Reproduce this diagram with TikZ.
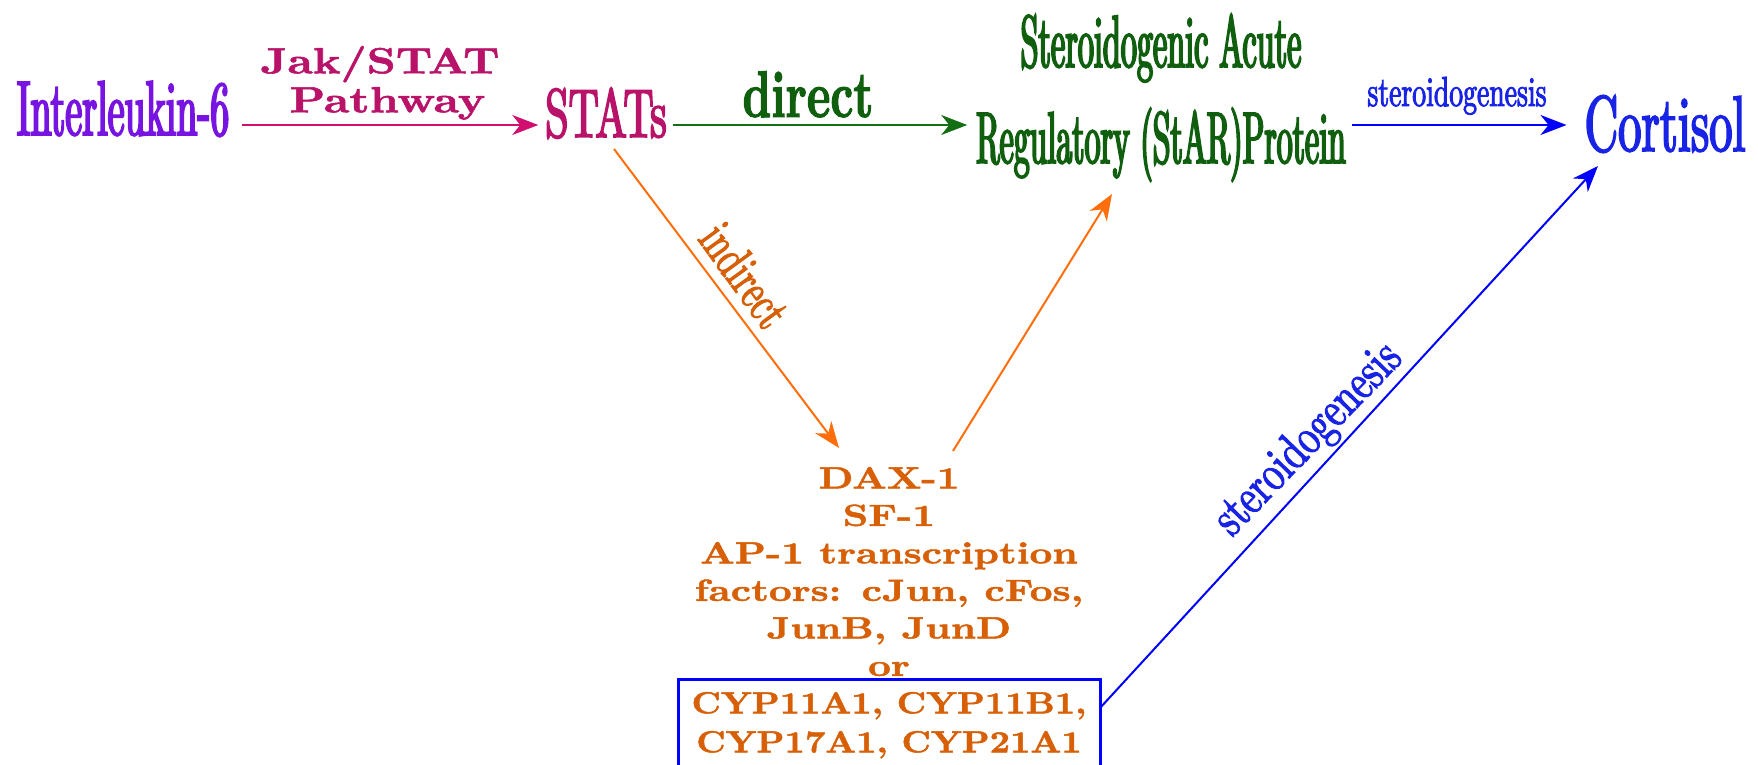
\documentclass[tikz,border=0pt]{standalone}
\usepackage{fontspec}
\usetikzlibrary{arrows.meta}
\newfontfamily\fIL{lmroman10-regular}[Extension=.otf,FakeStretch=0.49,FakeBold=2.5]
\newfontfamily\fStats{lmroman10-regular}[Extension=.otf,FakeStretch=0.61,FakeBold=2.5]
\newfontfamily\fCort{lmroman10-regular}[Extension=.otf,FakeStretch=0.59,FakeBold=2.2]
\newfontfamily\fStar{lmroman10-regular}[Extension=.otf,FakeStretch=0.435,FakeBold=2.5]
\newfontfamily\fLabT{lmroman10-regular}[Extension=.otf,FakeStretch=0.66,FakeBold=2.2]
\newfontfamily\fLabI{lmroman10-regular}[Extension=.otf,FakeStretch=0.66,FakeBold=2.2]
\newfontfamily\fLabS{lmroman10-regular}[Extension=.otf,FakeStretch=0.75,FakeBold=2.2]
\newfontfamily\fDir{lmroman10-bold}[Extension=.otf,FakeStretch=0.68,FakeBold=1.5]
\newfontfamily\fWide{lmroman10-bold}[Extension=.otf,FakeStretch=1.3,FakeBold=1.5]
\newfontfamily\fJak{lmroman10-bold}[Extension=.otf,FakeStretch=1.25,FakeBold=1.5]
\newfontfamily\fWideB{lmroman10-bold}[Extension=.otf,FakeStretch=1.16,FakeBold=1.5]
\definecolor{ilcol}{RGB}{120,20,225}
\definecolor{pinkcol}{RGB}{185,18,105}
\definecolor{pinkarr}{RGB}{210,15,110}
\definecolor{greencol}{RGB}{15,95,15}
\definecolor{greenarr}{RGB}{20,110,20}
\definecolor{bluecol}{RGB}{25,35,230}
\definecolor{bluearr}{RGB}{0,0,255}
\definecolor{orangecol}{RGB}{215,95,5}
\definecolor{orangearr}{RGB}{255,110,10}
\tikzset{
  lbl/.style={inner sep=0pt, outer sep=0pt},
  arr/.style={-{Stealth[length=13pt,width=10pt,inset=4pt]}, line width=1pt},
}
\begin{document}
\begin{tikzpicture}[x=0.5pt,y=-0.5pt]
\useasboundingbox (0,0) rectangle (1758,765);
\clip (0,0) rectangle (1758,765);
% main nodes
\node[lbl, anchor=base, text=ilcol, font={\fIL\fontsize{38.8pt}{44pt}\selectfont}] (il6) at (123,135) {Interleukin-6};
\node[lbl, anchor=base, text=pinkcol, font={\fStats\fontsize{34.4pt}{40pt}\selectfont}] (stats) at (606,137) {STATs};
\node[lbl, anchor=base, text=greencol, font={\fStar\fontsize{37pt}{40pt}\selectfont}] (starA) at (1161,67) {Steroidogenic Acute};
\node[lbl, anchor=base, text=greencol, font={\fStar\fontsize{36.6pt}{40pt}\selectfont}] (reg) at (1161,163) {Regulatory (StAR)Protein};
\node[lbl, anchor=base, text=bluecol, font={\fCort\fontsize{39.5pt}{44pt}\selectfont}] (cort) at (1665,151) {Cortisol};
\node[lbl, anchor=north, align=center, text=orangecol, font={\fWide\fontsize{15.3pt}{18.75pt}\selectfont}] (dax) at (889,467)
  {DAX-1\\SF-1\\AP-1 transcription\\factors: cJun, cFos,\\JunB, JunD\\or};
\node[anchor=north, align=center, draw=bluearr, line width=1.5pt, outer sep=0pt, inner xsep=0pt, inner ysep=6.5pt, minimum width=211pt,
  text=orangecol, font={\fWideB\fontsize{15.3pt}{19.5pt}\selectfont}] (cyp) at (889,679)
  {CYP11A1, CYP11B1,\\CYP17A1, CYP21A1};
% labels
\node[lbl, anchor=north, align=center, text=pinkcol, font={\fJak\fontsize{18.2pt}{19.5pt}\selectfont}] (jak) at (380,46) {Jak/STAT\\\hspace*{7.5pt}Pathway};
\node[lbl, anchor=base, text=greencol, font={\fDir\fontsize{33pt}{36pt}\selectfont}] (direct) at (808,117) {direct};
\node[lbl, anchor=base, text=bluecol, font={\fLabT\fontsize{21pt}{24pt}\selectfont}] (steroA) at (1457,106) {steroidogenesis};
\node[lbl, rotate=-54, text=orangecol, font={\fLabI\fontsize{26pt}{28pt}\selectfont}] (indirect) at (745,275) {indirect};
\node[lbl, rotate=46, text=bluecol, font={\fLabS\fontsize{25.5pt}{28pt}\selectfont}] (steroB) at (1309,440) {steroidogenesis};
% connectors
\draw[arr, pinkarr] ([xshift=6.5pt,yshift=5pt]il6.base east) -- ([xshift=-3.5pt,yshift=6pt]stats.base west);
\draw[arr, greenarr] ([xshift=3pt,yshift=6pt]stats.base east) -- ([xshift=-4.5pt,yshift=19pt]reg.base west);
\draw[arr, bluearr] ([xshift=3pt,yshift=19pt]reg.base east) -- ([xshift=-9pt,yshift=13pt]cort.base west);
\draw[arr, orangearr] ([xshift=4pt,yshift=-6pt]stats.base) -- ([xshift=-25pt,yshift=9.5pt]dax.north);
\draw[arr, orangearr] ([xshift=32pt,yshift=8pt]dax.north) -- ([xshift=-24.5pt,yshift=-15.5pt]reg.base);
\draw[arr, bluearr] ([yshift=-14.5pt]cyp.north east) -- ([xshift=-33.5pt,yshift=-7.5pt]cort.base);
\end{tikzpicture}
\end{document}
